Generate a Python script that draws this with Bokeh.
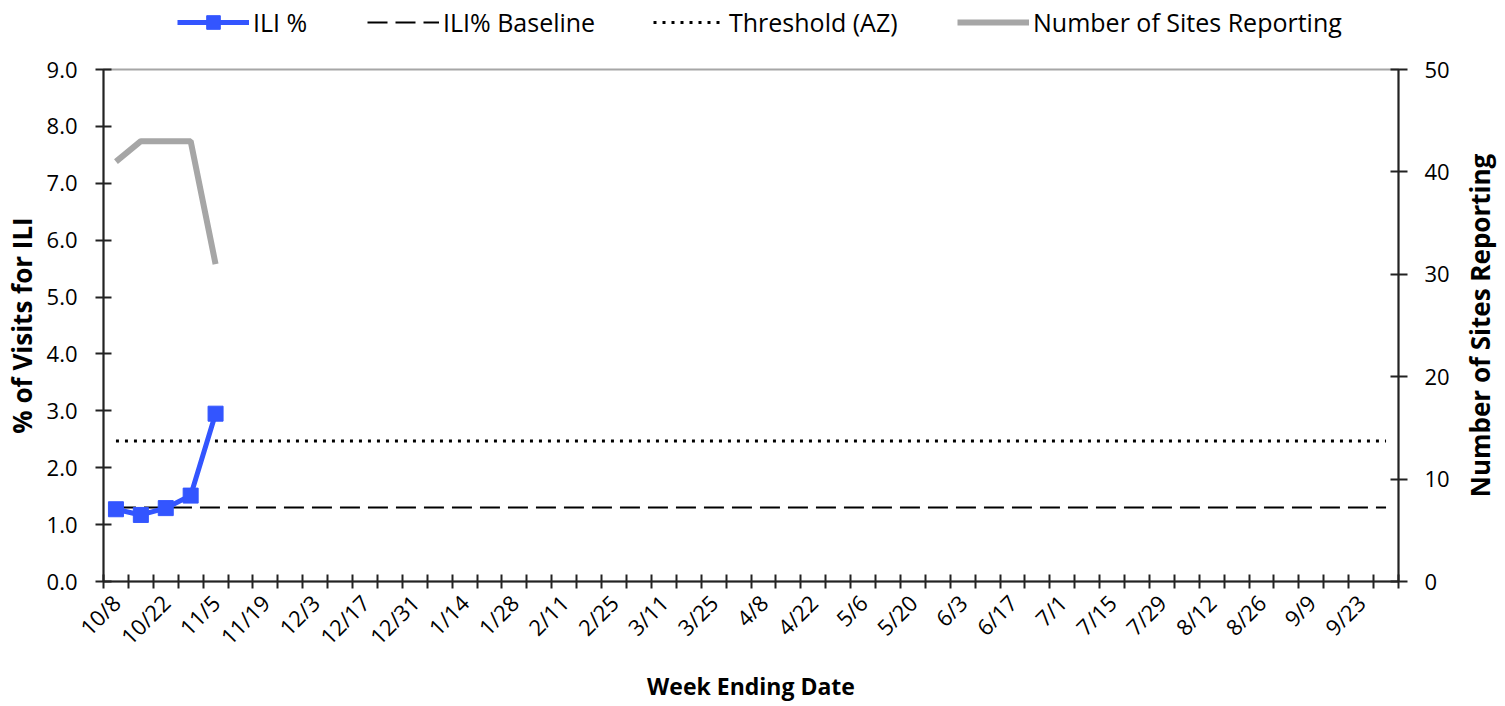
import math
from bokeh.plotting import figure
from bokeh.layouts import column, row
from bokeh.models import (Range1d, LinearAxis, FixedTicker, Legend, LegendItem,
                          NumeralTickFormatter, Title)
from bokeh.embed import file_html
from bokeh.resources import INLINE

weeks = ["10/8", "10/15", "10/22", "10/29", "11/5", "11/12", "11/19", "11/26",
         "12/3", "12/10", "12/17", "12/24", "12/31", "1/7", "1/14", "1/21",
         "1/28", "2/4", "2/11", "2/18", "2/25", "3/4", "3/11", "3/18", "3/25",
         "4/1", "4/8", "4/15", "4/22", "4/29", "5/6", "5/13", "5/20", "5/27",
         "6/3", "6/10", "6/17", "6/24", "7/1", "7/8", "7/15", "7/22", "7/29",
         "8/5", "8/12", "8/19", "8/26", "9/2", "9/9", "9/16", "9/23", "9/30"]
ili_pct = [1.27, 1.17, 1.29, 1.51, 2.95]
sites = [41, 43, 43, 43, 31]
baseline = [1.3] * len(weeks)
threshold = [2.47] * len(weeks)
left_ticks = [0, 1, 2, 3, 4, 5, 6, 7, 8, 9]
right_ticks = [0, 10, 20, 30, 40, 50]
series_names = ["ILI %", "ILI% Baseline", "Threshold (AZ)", "Number of Sites Reporting"]

FONT = "Open Sans"
BLUE = "#3355FF"
GRAY = "#A6A6A6"
AXIS = "#222222"
MAIN_W = 1459
STRIP_W = 38
TOTAL_W = MAIN_W + STRIP_W
LEG_H = 45
FRAME_H = 513
TOP_B = 24
BOT_B = 122
MAIN_H = TOP_B + FRAME_H + BOT_B
FRAME_L, FRAME_R = 100, 1398

pos = [i + 0.5 for i in range(len(weeks))]

# ---------------- main chart ----------------
p = figure(width=MAIN_W, height=MAIN_H, output_backend="svg", toolbar_location=None,
           x_range=Range1d(0, len(weeks)), y_range=Range1d(0, 9),
           min_border_left=FRAME_L, min_border_right=MAIN_W - FRAME_R,
           min_border_top=TOP_B, min_border_bottom=BOT_B)
p.extra_y_ranges = {"sites": Range1d(0, 50)}
p.grid.visible = False
p.outline_line_color = GRAY
p.outline_line_width = 2

p.line(pos, baseline, line_color="black", line_width=2, line_dash="20 8")
p.line(pos, threshold, line_color="black", line_width=3, line_dash="3 6")
p.line(pos[:len(sites)], sites, line_color=GRAY, line_width=6,
       y_range_name="sites")
p.line(pos[:len(ili_pct)], ili_pct, line_color=BLUE, line_width=5)
p.scatter(pos[:len(ili_pct)], ili_pct, marker="square", size=15,
          fill_color=BLUE, line_color=BLUE)

xa = p.xaxis[0]
xa.ticker = FixedTicker(ticks=[pos[i] for i in range(0, len(weeks), 2)],
                        minor_ticks=list(range(len(weeks) + 1)))
xa.major_label_overrides = {pos[i]: weeks[i] for i in range(0, len(weeks), 2)}
xa.major_tick_line_color = None
xa.minor_tick_in = 7
xa.minor_tick_out = 7
xa.minor_tick_line_color = AXIS
xa.minor_tick_line_width = 2
xa.major_label_orientation = math.pi / 4
xa.axis_label = "Week Ending Date"

ya = p.yaxis[0]
ya.ticker = FixedTicker(ticks=left_ticks)
ya.formatter = NumeralTickFormatter(format="0.0")
ya.axis_label = "% of Visits for ILI"
ya.minor_tick_line_color = None
ya.major_tick_in = 8
ya.major_tick_out = 8

ra = LinearAxis(y_range_name="sites", ticker=FixedTicker(ticks=right_ticks))
ra.minor_tick_line_color = None
ra.major_tick_in = 8
ra.major_tick_out = 9
p.add_layout(ra, "right")

for ax in [xa, ya, ra]:
    ax.axis_line_color = AXIS
    ax.axis_line_width = 2
    ax.major_tick_line_width = 2
    if ax is not xa:
        ax.major_tick_line_color = AXIS
    ax.major_label_text_font = FONT
    ax.major_label_text_font_size = "22px"
    ax.major_label_text_color = "black"
    ax.axis_label_text_font = FONT
    ax.axis_label_text_font_size = "26px"
    ax.axis_label_text_font_style = "bold"
    ax.axis_label_text_color = "black"
xa.axis_label_text_font_size = "23px"
ya.major_label_standoff = 18
ra.major_label_standoff = 17
xa.major_label_standoff = 10
xa.axis_label_standoff = 6
ya.axis_label_standoff = 4

# ---------------- right axis title strip ----------------
strip = figure(width=STRIP_W, height=MAIN_H, output_backend="svg",
               toolbar_location=None, x_range=Range1d(0, 1), y_range=Range1d(0, 1),
               x_axis_location=None, y_axis_location=None,
               min_border_left=0, min_border_right=0,
               min_border_top=TOP_B, min_border_bottom=BOT_B)
strip.grid.visible = False
strip.outline_line_color = None
strip.add_layout(Title(text="Number of Sites Reporting", align="center",
                       text_font=FONT, text_font_size="26px",
                       text_font_style="bold", text_color="black",
                       standoff=0), "left")

# ---------------- legend strip ----------------
lg = figure(width=TOTAL_W, height=LEG_H, output_backend="svg", toolbar_location=None,
            x_range=Range1d(-2, -1), y_range=Range1d(-2, -1),
            x_axis_location=None, y_axis_location=None,
            min_border_left=FRAME_L, min_border_right=TOTAL_W - FRAME_R,
            min_border_top=0, min_border_bottom=0)
lg.grid.visible = False
lg.outline_line_color = None

# legend swatches reuse the series (outside this strip's visible range)
l_ili = lg.line(pos[:len(ili_pct)], ili_pct, line_color=BLUE, line_width=5)
m_ili = lg.scatter(pos[:len(ili_pct)], ili_pct, marker="square", size=15,
                   fill_color=BLUE, line_color=BLUE)
l_base = lg.line(pos, baseline, line_color="black", line_width=2, line_dash="20 8")
l_thr = lg.line(pos, threshold, line_color="black", line_width=3, line_dash="3 6")
l_sites = lg.line(pos[:len(sites)], sites, line_color=GRAY, line_width=6)

groups = [[l_ili, m_ili], [l_base], [l_thr], [l_sites]]
starts = [177, 367, 653, 957]
for name, rs, x0 in zip(series_names, groups, starts):
    leg = Legend(items=[LegendItem(label=name, renderers=rs)],
                 location=(x0 - FRAME_L, 6), orientation="horizontal")
    leg.label_text_font = FONT
    leg.label_text_font_size = "25px"
    leg.label_text_color = "black"
    leg.glyph_width = 72
    leg.glyph_height = 34
    leg.label_standoff = 4
    leg.padding = 0
    leg.margin = 0
    leg.border_line_color = None
    leg.background_fill_alpha = 0
    lg.add_layout(leg, "center")

layout = column(lg, row(p, strip, spacing=0), spacing=0)
open("out.html", "w").write(file_html(layout, INLINE))
